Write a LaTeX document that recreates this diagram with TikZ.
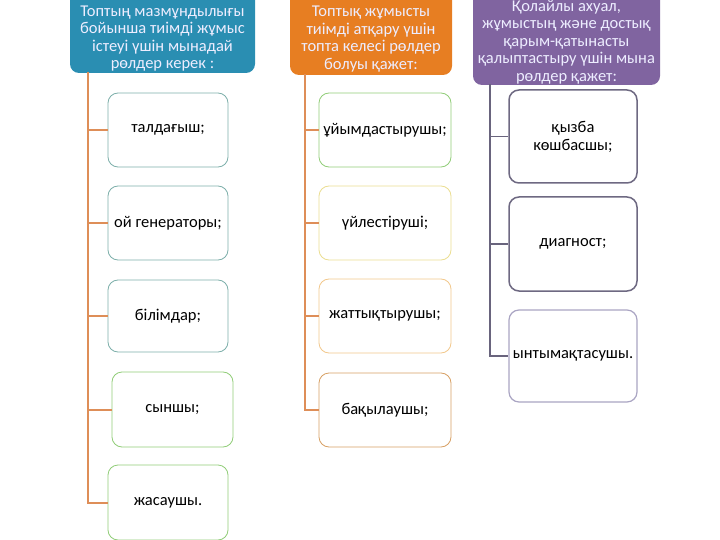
\documentclass[tikz,border=0pt]{standalone}
\usepackage{fontspec}
\setmainfont{Carlito}
\definecolor{tealH}{RGB}{42,142,178}
\definecolor{orangeH}{RGB}{231,126,34}
\definecolor{purpleH}{RGB}{128,100,160}
\definecolor{trunkO}{RGB}{222,142,88}
\definecolor{trunkP}{RGB}{105,100,125}
\definecolor{bTeal}{RGB}{125,175,170}
\definecolor{bGreen}{RGB}{145,205,120}
\definecolor{bYellow}{RGB}{235,222,145}
\definecolor{bPeach}{RGB}{242,200,140}
\definecolor{bBrown}{RGB}{215,160,100}
\definecolor{bPurple}{RGB}{110,105,130}
\definecolor{bLilac}{RGB}{170,165,195}
\begin{document}
\begin{tikzpicture}[x=1pt,y=-1pt]
    \tikzset{% styles for headers, boxes and connectors
    hd/.style={rounded corners=9pt,inner sep=0pt},
    hdtxt/.style={text=white!93!blue,align=center,
      font=\fontsize{16.5}{17.5}\selectfont,inner sep=0pt},
    bx/.style={draw,rounded corners=10pt,fill=white,align=center,
      font=\fontsize{16.5}{18}\selectfont,inner sep=1pt,line width=0.8pt},
    tk/.style={trunkO,line width=2pt},
    tp/.style={trunkP,line width=1.5pt},
    }
    \useasboundingbox (0,0) rectangle (720,540);

    % Headers
    \node[hd,fill=tealH,minimum width=185pt,minimum height=86pt] (h1) at (162.5,30) {};
    \node[hdtxt] (h1t) at (162.5,38.5)
      {Топтың мазмұндылығы\\бойынша тиімді жұмыс\\істеуі үшін мынадай\\рөлдер керек :};
    \node[hd,fill=orangeH,minimum width=162pt,minimum height=88pt] (h2) at (371,31) {};
    \node[hdtxt] (h2t) at (371,39)
      {Топтық жұмысты\\тиімді атқару үшін\\топта келесі рөлдер\\болуы қажет:};
    \node[hd,fill=purpleH,minimum width=187pt,minimum height=98pt] (h3) at (566.5,36) {};
    \node[hdtxt] (h3t) at (566.5,42)
      {Қолайлы ахуал,\\жұмыстың және достық\\қарым-қатынасты\\қалыптастыру үшін мына\\рөлдер қажет:};

    % Left column
    \node[bx,draw=bTeal,minimum width=120pt,minimum height=74pt] (l1) at (168,130) {талдағыш;};
    \node[bx,draw=bTeal,minimum width=120pt,minimum height=74pt] (l2) at (168,223) {ой генераторы;};
    \node[bx,draw=bTeal,minimum width=120pt,minimum height=72pt] (l3) at (168,316) {білімдар;};
    \node[bx,draw=bGreen,minimum width=121pt,minimum height=75pt] (l4) at (172.5,409.5) {сыншы;};
    \node[bx,draw=bGreen,minimum width=120pt,minimum height=75pt] (l5) at (168,502.5) {жасаушы.};

    % Middle column
    \node[bx,draw=bGreen,minimum width=132pt,minimum height=74pt] (m1) at (385,130) {ұйымдастырушы;};
    \node[bx,draw=bYellow,minimum width=132pt,minimum height=74pt] (m2) at (385,223) {үйлестіруші;};
    \node[bx,draw=bPeach,minimum width=132pt,minimum height=74pt] (m3) at (385,316) {жаттықтырушы;};
    \node[bx,draw=bBrown,minimum width=132pt,minimum height=74pt] (m4) at (385,410) {бақылаушы;};

    % Right column
    \node[bx,draw=bPurple,line width=1.5pt,minimum width=128pt,minimum height=93pt] (r1) at (573,136.5) {қызба\\көшбасшы;};
    \node[bx,draw=bPurple,line width=1.5pt,minimum width=128pt,minimum height=94pt] (r2) at (573,244) {диагност;};
    \node[bx,draw=bLilac,line width=1.2pt,minimum width=128pt,minimum height=92pt] (r3) at (573,356) {ынтымақтасушы.};

    % Trunks
    \coordinate (lt) at (88,72);
    \coordinate (mt) at (305,74);
    \coordinate (rt) at (490,84);
    \draw[tk] (lt) |- (l5.west);
    \foreach \n in {l1,l2,l3,l4} \draw[tk] (lt |- \n.west) -- (\n.west);
    \draw[tk] (mt) |- (m4.west);
    \foreach \n in {m1,m2,m3} \draw[tk] (mt |- \n.west) -- (\n.west);
    \draw[tp] (rt) |- (r3.west);
    \foreach \n in {r1,r2} \draw[tp] (rt |- \n.west) -- (\n.west);

\end{tikzpicture}
\end{document}
